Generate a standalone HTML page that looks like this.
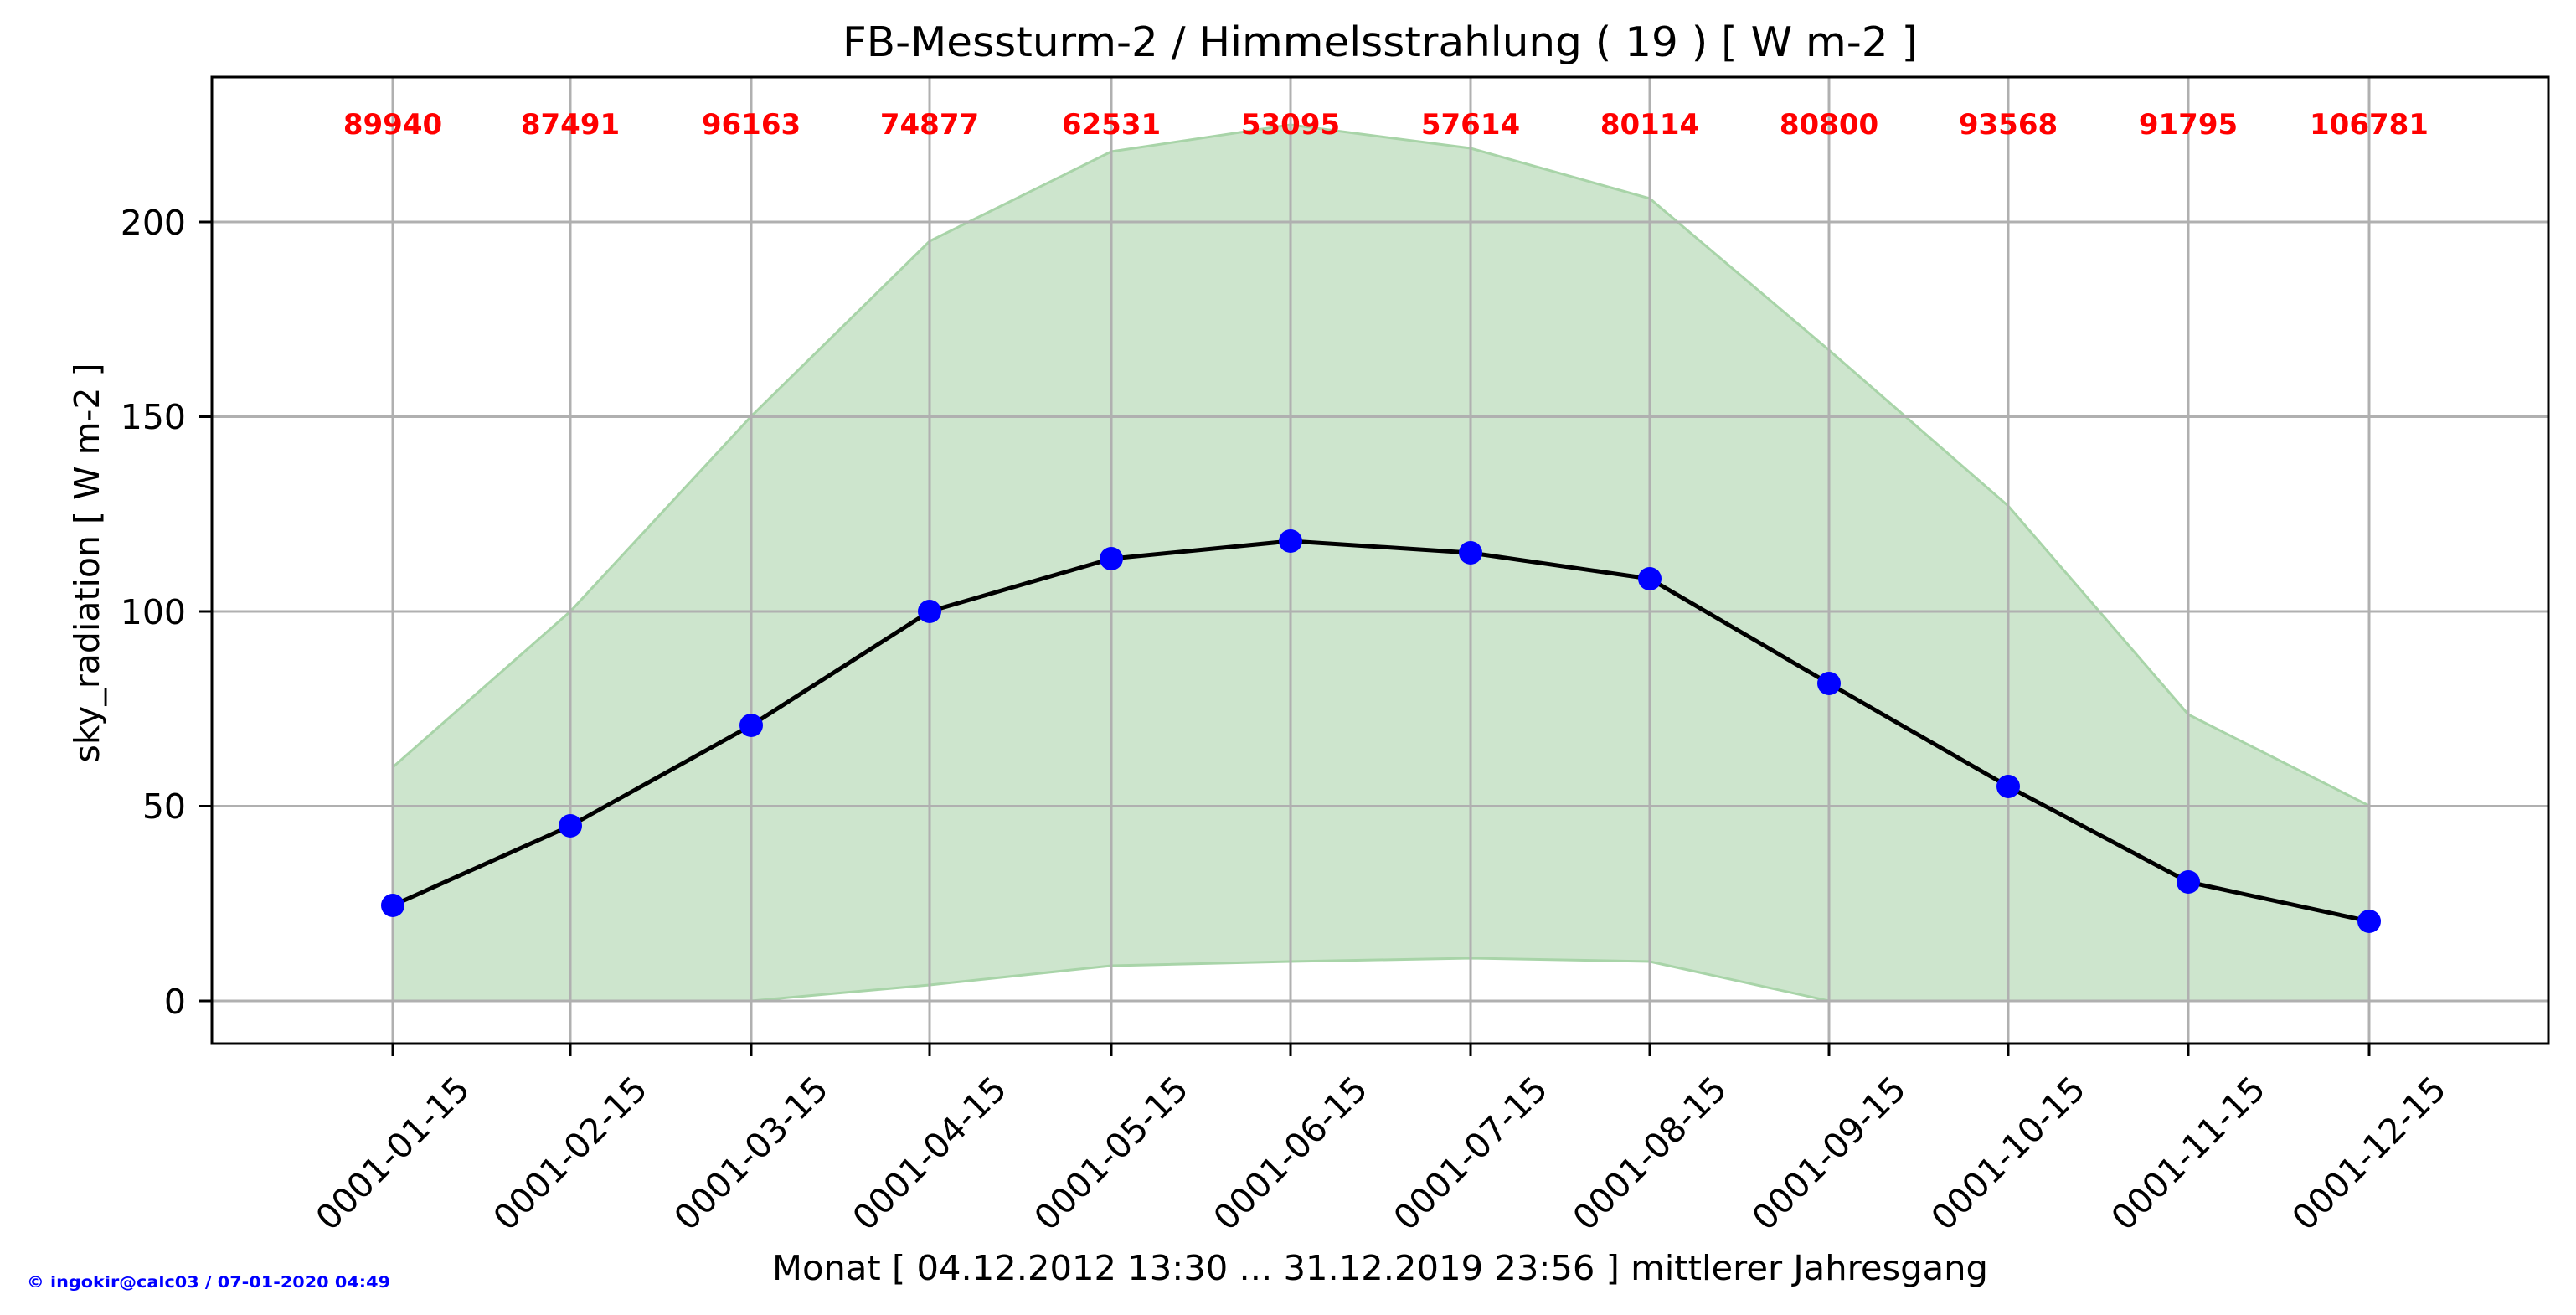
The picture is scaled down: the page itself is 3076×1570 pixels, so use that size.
<!DOCTYPE html>
<html><head><meta charset="utf-8"><style>html,body{margin:0;padding:0;background:#fff}svg{display:block}</style></head>
<body>
<svg width="3076" height="1570" viewBox="0 0 3076 1570" xmlns="http://www.w3.org/2000/svg" font-family="'DejaVu Sans','Liberation Sans',sans-serif">
<rect width="3076" height="1570" fill="#fff"/>
<polygon points="469,916 681,730 897,497 1110,288 1327,181 1541,149 1756,177 1970,237 2184,418 2398,604 2613,853 2829,962 2829,1195 2613,1195 2398,1195 2184,1195 1970,1148 1756,1144 1541,1148 1327,1153 1110,1176 897,1195 681,1195 469,1195" fill="#cde5cd" stroke="#a8d4a8" stroke-width="3"/>
<g stroke="#b0b0b0" stroke-width="3">
<line x1="253" x2="3043" y1="1195" y2="1195"/>
<line x1="253" x2="3043" y1="962.5" y2="962.5"/>
<line x1="253" x2="3043" y1="730" y2="730"/>
<line x1="253" x2="3043" y1="497.5" y2="497.5"/>
<line x1="253" x2="3043" y1="265" y2="265"/>
<line x1="469" x2="469" y1="92" y2="1246"/>
<line x1="681" x2="681" y1="92" y2="1246"/>
<line x1="897" x2="897" y1="92" y2="1246"/>
<line x1="1110" x2="1110" y1="92" y2="1246"/>
<line x1="1327" x2="1327" y1="92" y2="1246"/>
<line x1="1541" x2="1541" y1="92" y2="1246"/>
<line x1="1756" x2="1756" y1="92" y2="1246"/>
<line x1="1970" x2="1970" y1="92" y2="1246"/>
<line x1="2184" x2="2184" y1="92" y2="1246"/>
<line x1="2398" x2="2398" y1="92" y2="1246"/>
<line x1="2613" x2="2613" y1="92" y2="1246"/>
<line x1="2829" x2="2829" y1="92" y2="1246"/>
</g>
<polyline points="469,1081 681,986 897,866 1110,730 1327,667 1541,646 1756,660 1970,691 2184,816 2398,939 2613,1053 2829,1100" fill="none" stroke="#000" stroke-width="5" stroke-linejoin="round"/>
<g fill="#0000ff">
<circle cx="469" cy="1081" r="14"/><circle cx="681" cy="986" r="14"/><circle cx="897" cy="866" r="14"/><circle cx="1110" cy="730" r="14"/><circle cx="1327" cy="667" r="14"/><circle cx="1541" cy="646" r="14"/><circle cx="1756" cy="660" r="14"/><circle cx="1970" cy="691" r="14"/><circle cx="2184" cy="816" r="14"/><circle cx="2398" cy="939" r="14"/><circle cx="2613" cy="1053" r="14"/><circle cx="2829" cy="1100" r="14"/>
</g>
<g fill="#ff0000" font-weight="bold" font-size="34" text-anchor="middle">
<text x="469" y="160">89940</text><text x="681" y="160">87491</text><text x="897" y="160">96163</text><text x="1110" y="160">74877</text><text x="1327" y="160">62531</text><text x="1541" y="160">53095</text><text x="1756" y="160">57614</text><text x="1970" y="160">80114</text><text x="2184" y="160">80800</text><text x="2398" y="160">93568</text><text x="2613" y="160">91795</text><text x="2829" y="160">106781</text>
</g>
<rect x="253" y="92" width="2790" height="1154" fill="none" stroke="#000" stroke-width="3"/>
<g stroke="#000" stroke-width="3">
<line x1="238" x2="253" y1="1195" y2="1195"/><line x1="238" x2="253" y1="962.5" y2="962.5"/><line x1="238" x2="253" y1="730" y2="730"/><line x1="238" x2="253" y1="497.5" y2="497.5"/><line x1="238" x2="253" y1="265" y2="265"/>
<line x1="469" x2="469" y1="1246" y2="1261"/><line x1="681" x2="681" y1="1246" y2="1261"/><line x1="897" x2="897" y1="1246" y2="1261"/><line x1="1110" x2="1110" y1="1246" y2="1261"/><line x1="1327" x2="1327" y1="1246" y2="1261"/><line x1="1541" x2="1541" y1="1246" y2="1261"/><line x1="1756" x2="1756" y1="1246" y2="1261"/><line x1="1970" x2="1970" y1="1246" y2="1261"/><line x1="2184" x2="2184" y1="1246" y2="1261"/><line x1="2398" x2="2398" y1="1246" y2="1261"/><line x1="2613" x2="2613" y1="1246" y2="1261"/><line x1="2829" x2="2829" y1="1246" y2="1261"/>
</g>
<g font-size="41" text-anchor="end" fill="#000">
<text x="222" y="1210">0</text><text x="222" y="977">50</text><text x="222" y="745">100</text><text x="222" y="512">150</text><text x="222" y="280">200</text>
</g>
<g font-size="41" text-anchor="middle" fill="#000">
<text transform="translate(469,1377) rotate(-45)" y="14">0001-01-15</text>
<text transform="translate(681,1377) rotate(-45)" y="14">0001-02-15</text>
<text transform="translate(897,1377) rotate(-45)" y="14">0001-03-15</text>
<text transform="translate(1110,1377) rotate(-45)" y="14">0001-04-15</text>
<text transform="translate(1327,1377) rotate(-45)" y="14">0001-05-15</text>
<text transform="translate(1541,1377) rotate(-45)" y="14">0001-06-15</text>
<text transform="translate(1756,1377) rotate(-45)" y="14">0001-07-15</text>
<text transform="translate(1970,1377) rotate(-45)" y="14">0001-08-15</text>
<text transform="translate(2184,1377) rotate(-45)" y="14">0001-09-15</text>
<text transform="translate(2398,1377) rotate(-45)" y="14">0001-10-15</text>
<text transform="translate(2613,1377) rotate(-45)" y="14">0001-11-15</text>
<text transform="translate(2829,1377) rotate(-45)" y="14">0001-12-15</text>
</g>
<text x="1648" y="67" font-size="49" text-anchor="middle" fill="#000" textLength="1284" lengthAdjust="spacingAndGlyphs">FB-Messturm-2 / Himmelsstrahlung ( 19 ) [ W m-2 ]</text>
<text x="1648" y="1528" font-size="41" text-anchor="middle" fill="#000" textLength="1452" lengthAdjust="spacingAndGlyphs">Monat [ 04.12.2012 13:30 ... 31.12.2019 23:56 ] mittlerer Jahresgang</text>
<text transform="translate(118,672) rotate(-90)" font-size="41" text-anchor="middle" fill="#000">sky_radiation [ W m-2 ]</text>
<text x="32" y="1537" font-size="19" font-weight="bold" fill="#0000ff" textLength="434" lengthAdjust="spacingAndGlyphs">© ingokir@calc03 / 07-01-2020 04:49</text>
</svg>
</body></html>
